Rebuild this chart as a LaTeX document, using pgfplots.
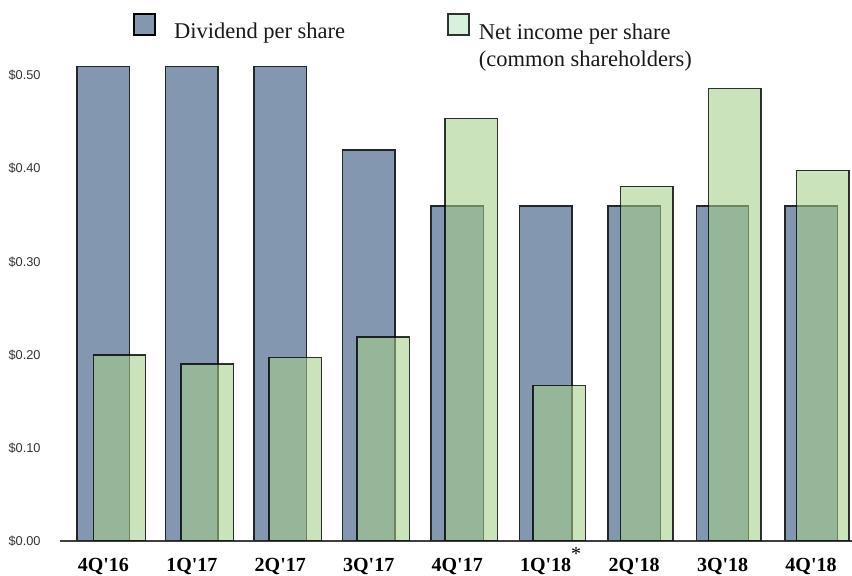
\documentclass[border=0pt]{standalone}
\usepackage{fontspec}
\usepackage{pgfplots}
\pgfplotsset{compat=1.18}
\newfontfamily\serifA{Liberation Serif}
\newfontfamily\sansA{Liberation Sans}
\definecolor{divblue}{HTML}{8497B1}
\definecolor{incgreen}{HTML}{A2CE88}
\definecolor{leggreen}{HTML}{B9E7C4}
\definecolor{axisgray}{HTML}{404040}
\definecolor{labgray}{HTML}{333333}
\begin{document}
\begin{tikzpicture}
\useasboundingbox (-30pt,-17.5pt) rectangle (396pt,270.5pt);
\begin{axis}[
  at={(0,0)}, anchor=south west,
  scale only axis, width=396pt, height=256pt,
  xmin=-0.49, xmax=8.463, ymin=0, ymax=0.55,
  axis x line*=bottom, axis y line*=left,
  y axis line style={draw=none},
  x axis line style={draw=axisgray, line width=0.65pt},
  xtick={0,1,2,3,4,5,6,7,8},
  xticklabels={4Q'16,1Q'17,2Q'17,3Q'17,4Q'17,{1Q'18\rlap{\smash{\raisebox{5.5pt}{\mdseries *}}}},2Q'18,3Q'18,4Q'18},
  ytick={0,0.1,0.2,0.3,0.4,0.5},
  yticklabels={\$0.00,\$0.10,\$0.20,\$0.30,\$0.40,\$0.50},
  major tick length=0pt,
  xticklabel style={font=\serifA\bfseries\fontsize{10pt}{12pt}\selectfont, anchor=north, inner sep=0pt, yshift=-8.5pt, text=black},
  yticklabel style={font=\sansA\fontsize{6.4pt}{7pt}\selectfont, anchor=east, inner sep=0pt, xshift=-9.5pt, text=labgray},
  legend columns=2,
  legend cell align=left,
  legend style={at={(0.0922,1.0316)}, anchor=north west, draw=none, fill=none, inner sep=0pt,
    column sep=9pt,
    /tikz/every even column/.append style={column sep=51pt},
    font=\serifA\fontsize{11.25pt}{13.5pt}\selectfont, text=black!90,
    nodes={inner sep=0pt}},
]
\addplot[ybar, bar width=26.2pt, bar shift=0pt, fill=divblue, draw=black!85, line width=0.7pt,
  legend image code/.code={\draw[fill=divblue, draw=black, line width=0.8pt] (0pt,-1.55pt) rectangle (10.5pt,8.95pt);}]
  coordinates {(0,0.51) (1,0.51) (2,0.51) (3,0.42) (4,0.36) (5,0.36) (6,0.36) (7,0.36) (8,0.36)};
\addplot[ybar, bar width=26.2pt, bar shift=0pt, fill=incgreen, fill opacity=0.57, draw=black, draw opacity=0.8, line width=0.7pt,
  legend image code/.code={\draw[fill=leggreen, draw=black, line width=0.8pt] (0pt,-1.55pt) rectangle (10.5pt,8.95pt);}]
  coordinates {(0.182,0.200) (1.176,0.190) (2.170,0.197) (3.163,0.219) (4.157,0.454) (5.151,0.167) (6.145,0.381) (7.138,0.486) (8.132,0.398)};
\legend{Dividend per share,{\hspace*{-4.5pt}\begin{tabular}[t]{@{}l@{}}Net income per share\\(common shareholders)\end{tabular}}}
\end{axis}
\end{tikzpicture}
\end{document}
